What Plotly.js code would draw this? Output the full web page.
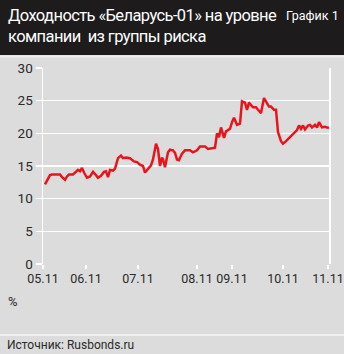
<!DOCTYPE html>
<html>
<head>
<meta charset="utf-8">
<script src="https://cdn.plot.ly/plotly-3.0.1.min.js"></script>
<style>
html,body{margin:0;padding:0;background:#dcdcdc;}
#chart{width:344px;height:354px;}
#chart .gtitle{letter-spacing:-0.6px;}
</style>
</head>
<body>
<div id="chart"></div>
<script>
// Horizontal position (pixel-scale units from the 05.11 tick) and yield, %
var xPos = [2,5,7,9,17,19,22,24,26,30,33,35,37,39,41,44,47,50,53,55,58,61,63,65,67,70,72,75,78,80,83,87,91,94,97,100,102,105,108,110,113,115,117,119,120,122,125,127,130,132,134,136,139,142,147,150,154,157,162,165,170,172,174,176,178,181,183,187,189,191,194,197,199,202,204,206,210,213,215,218,221,223,226,228,231,233,235,238,240,243,247,250,253,254,256,258,260,262,265,267,269,272,274,276,279,282,286];
var yieldPct = [12.2,13.0,13.6,13.7,13.7,13.3,12.9,13.4,13.7,13.7,14.1,14.4,14.2,14.7,14.0,13.2,13.4,14.1,13.6,13.2,13.5,14.1,14.2,13.3,14.4,14.3,14.6,16.2,16.6,16.2,16.3,16.2,15.7,15.6,15.2,15.0,14.0,14.6,15.1,16.0,18.4,17.6,15.0,16.3,16.0,14.8,17.1,17.5,17.4,17.0,16.0,15.9,16.9,17.4,17.4,17.1,17.4,18.0,18.0,17.6,17.7,17.8,20.0,19.4,20.9,19.3,20.3,20.7,21.7,22.4,21.3,21.5,24.9,24.7,23.6,24.7,24.0,24.0,23.6,23.1,25.4,24.8,24.1,24.1,23.6,23.6,20.2,18.8,18.4,18.8,19.4,20.0,20.3,20.5,21.2,20.7,21.2,20.6,21.2,21.3,20.9,21.3,20.9,21.7,20.9,21.0,20.8,20.7];
var tickPos = [0,43,95,154,189,240,285];
var tickLabels = ['05.11','06.11','07.11','08.11','09.11','10.11','11.11'];
var yTicks = [0,5,10,15,20,25,30];

var W = 344, H = 354;
var L = 43, R = 15, T = 68, B = 90;
var ph = H - T - B;
function py(p){ return (H - B - p) / ph; }   // pixel row -> paper y
var FONT = 'Roboto, "Liberation Sans", sans-serif';

var trace = {
  x: xPos, y: yieldPct, type: 'scatter', mode: 'lines',
  line: {color: '#e8141c', width: 2.5},
  hoverinfo: 'skip'
};

var layout = {
  width: W, height: H,
  margin: {l: L, r: R, t: T, b: B, pad: 0},
  paper_bgcolor: '#dcdcdc',
  plot_bgcolor: '#dcdcdc',
  showlegend: false,
  font: {family: FONT, color: '#2a2a2a', size: 12},
  title: {
    text: 'Доходность «Беларусь-01» на уровне<br>компании\u00a0 из группы риска',
    font: {family: FONT, size: 16.5, color: '#ffffff'},
    x: 8 / W, xanchor: 'left', xref: 'container',
    y: 1 - 21 / H, yanchor: 'top', yref: 'container'
  },
  xaxis: {
    range: [0, 286], tickmode: 'array', tickvals: tickPos, ticktext: tickLabels,
    tickangle: 0, ticklabelstandoff: -1,
    showgrid: false, zeroline: false, showline: false,
    ticks: 'outside', ticklen: 4, tickwidth: 1.5, tickcolor: '#ffffff',
    tickfont: {family: FONT, size: 12.5, color: '#2a2a2a'},
    fixedrange: true
  },
  yaxis: {
    range: [0, 30], tickmode: 'array', tickvals: yTicks,
    showgrid: true, gridcolor: '#ffffff', gridwidth: 1.5,
    zeroline: false, showline: true, linecolor: '#ffffff', linewidth: 1.5, mirror: true,
    ticks: 'outside', ticklen: 6, tickwidth: 1.5, tickcolor: '#ffffff',
    tickfont: {family: FONT, size: 13.5, color: '#2a2a2a'},
    fixedrange: true
  },
  shapes: [
    {type: 'rect', xref: 'paper', yref: 'paper', layer: 'below',
     x0: -L / 286, x1: 1 + R / 286, y0: py(55), y1: py(-2),
     fillcolor: '#1d1b1c', line: {width: 0}},
    {type: 'line', xref: 'paper', yref: 'paper', layer: 'below',
     x0: -L / 286, x1: 1 + R / 286, y0: py(56.5), y1: py(56.5),
     line: {color: '#eeeeee', width: 2}},
    {type: 'line', xref: 'paper', yref: 'paper', layer: 'below',
     x0: -L / 286, x1: 1 + R / 286, y0: py(335), y1: py(335),
     line: {color: '#f0f0f0', width: 2}}
  ],
  annotations: [
    {text: 'График 1', xref: 'paper', yref: 'paper',
     x: 1 + (R - 3) / 286, y: py(16), xanchor: 'right', yanchor: 'middle',
     showarrow: false, font: {family: FONT, size: 12.5, color: '#ffffff'}},
    {text: '%', xref: 'paper', yref: 'paper',
     x: (6 - L) / 286, y: py(301), xanchor: 'left', yanchor: 'middle',
     showarrow: false, font: {family: FONT, size: 13, color: '#2a2a2a'}},
    {text: 'Источник: Rusbonds.ru', xref: 'paper', yref: 'paper',
     x: (5 - L) / 286, y: py(345), xanchor: 'left', yanchor: 'middle',
     showarrow: false, font: {family: FONT, size: 12, color: '#2a2a2a'}}
  ]
};

Plotly.newPlot('chart', [trace], layout, {staticPlot: true, displayModeBar: false});
</script>
</body>
</html>
